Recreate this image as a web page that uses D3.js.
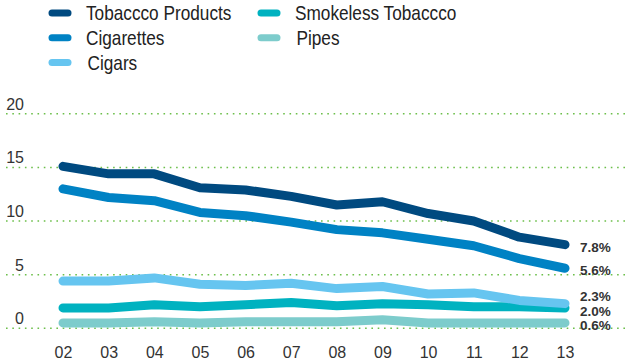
<!DOCTYPE html>
<html>
<head>
<meta charset="utf-8">
<script src="https://cdn.jsdelivr.net/npm/d3@7"></script>
<style>
  body { margin: 0; background: #fff; }
  svg { display: block; }
</style>
</head>
<body>
<svg id="chart" width="634" height="362"></svg>
<script>
// data
var years = ['02','03','04','05','06','07','08','09','10','11','12','13'];
var tobaccoProducts = [15.1, 14.4, 14.4, 13.1, 12.9, 12.3, 11.5, 11.8, 10.7, 10.0, 8.5, 7.8];
var cigarettes = [13.0, 12.2, 11.9, 10.8, 10.5, 9.9, 9.2, 8.9, 8.3, 7.7, 6.5, 5.6];
var cigars = [4.4, 4.4, 4.7, 4.1, 4.0, 4.2, 3.7, 3.9, 3.2, 3.3, 2.6, 2.3];
var smokeless = [1.9, 1.9, 2.2, 2.0, 2.2, 2.4, 2.1, 2.3, 2.2, 2.0, 2.0, 1.9];
var pipes = [0.5, 0.5, 0.6, 0.5, 0.6, 0.6, 0.6, 0.8, 0.5, 0.5, 0.5, 0.5];
var seriesNames = ['Tobaccco Products', 'Cigarettes', 'Cigars', 'Smokeless Tobaccco', 'Pipes'];
var endLabels = ['7.8%', '5.6%', '2.3%', '2.0%', '0.6%'];
var yTicks = [0, 5, 10, 15, 20];

var colors = ['#004a80', '#0082c4', '#66c5f0', '#00b2c0', '#7dcccc'];
var seriesValues = [tobaccoProducts, cigarettes, cigars, smokeless, pipes];

var svg = d3.select('#chart');

var x = d3.scalePoint().domain(years).range([63, 565]);
var y = d3.scaleLinear().domain([0, 20]).range([328.3, 113.8]);

//grid lines
svg.append('g').selectAll('line')
  .data(yTicks)
  .join('line')
  .attr('x1', 6).attr('x2', 628)
  .attr('y1', function(d){ return y(d); })
  .attr('y2', function(d){ return y(d); })
  .attr('stroke', '#6cbf4a')
  .attr('stroke-width', 1.6)
  .attr('stroke-dasharray', '1.6,4.7');

//y labels
svg.append('g').selectAll('text')
  .data(yTicks)
  .join('text')
  .attr('x', 24)
  .attr('y', function(d){ return y(d) - 4; })
  .attr('text-anchor', 'end')
  .attr('font-family', 'Liberation Sans, Arial, sans-serif')
  .attr('font-size', 16)
  .attr('fill', '#333')
  .text(function(d){ return d; });

//x axis
var xAxis = svg.append('g')
  .attr('transform', 'translate(0,345)')
  .call(d3.axisBottom(x).tickSize(0).tickPadding(0));
xAxis.select('.domain').remove();
xAxis.selectAll('text')
  .attr('dy', 0)
  .attr('y', 13)
  .attr('font-family', 'Liberation Sans, Arial, sans-serif')
  .attr('font-size', 16)
  .attr('fill', '#333');

//lines, back to front
var line = d3.line()
  .x(function(d, i){ return x(years[i]); })
  .y(function(d){ return y(d); });

var order = [4, 3, 2, 1, 0];
svg.append('g').selectAll('path')
  .data(order)
  .join('path')
  .attr('d', function(k){ return line(seriesValues[k]); })
  .attr('fill', 'none')
  .attr('stroke', function(k){ return colors[k]; })
  .attr('stroke-width', 9)
  .attr('stroke-linecap', 'round')
  .attr('stroke-linejoin', 'round');

//end labels
var labelY = [251.5, 275, 300.5, 316, 330];
svg.append('g').selectAll('text')
  .data(endLabels)
  .join('text')
  .attr('x', 580)
  .attr('y', function(d, i){ return labelY[i]; })
  .attr('font-family', 'Liberation Sans, Arial, sans-serif')
  .attr('font-weight', 'bold')
  .attr('font-size', 13.5)
  .attr('fill', '#333')
  .text(function(d){ return d; });

//legend (narrow face faked by squeezing Liberation Sans)
var legendPos = [[49, 13], [49, 37.7], [49, 62.5], [258, 13], [258, 37.7]];
var leg = svg.append('g').selectAll('g')
  .data(seriesNames)
  .join('g')
  .attr('transform', function(d, i){ return 'translate(' + legendPos[i][0] + ',' + legendPos[i][1] + ')'; });
leg.append('line')
  .attr('x1', 3).attr('x2', 19)
  .attr('stroke', function(d, i){ return colors[i]; })
  .attr('stroke-width', 7)
  .attr('stroke-linecap', 'round');
leg.append('text')
  .attr('transform', function(d, i){
    var tx = (i == 2 || i == 4) ? 38.5 : 37;
    return 'translate(' + tx + ',7.2) scale(0.82,1)';
  })
  .attr('font-family', 'Liberation Sans, Arial, sans-serif')
  .attr('font-size', 21)
  .attr('fill', '#222')
  .text(function(d){ return d; });
</script>
</body>
</html>
